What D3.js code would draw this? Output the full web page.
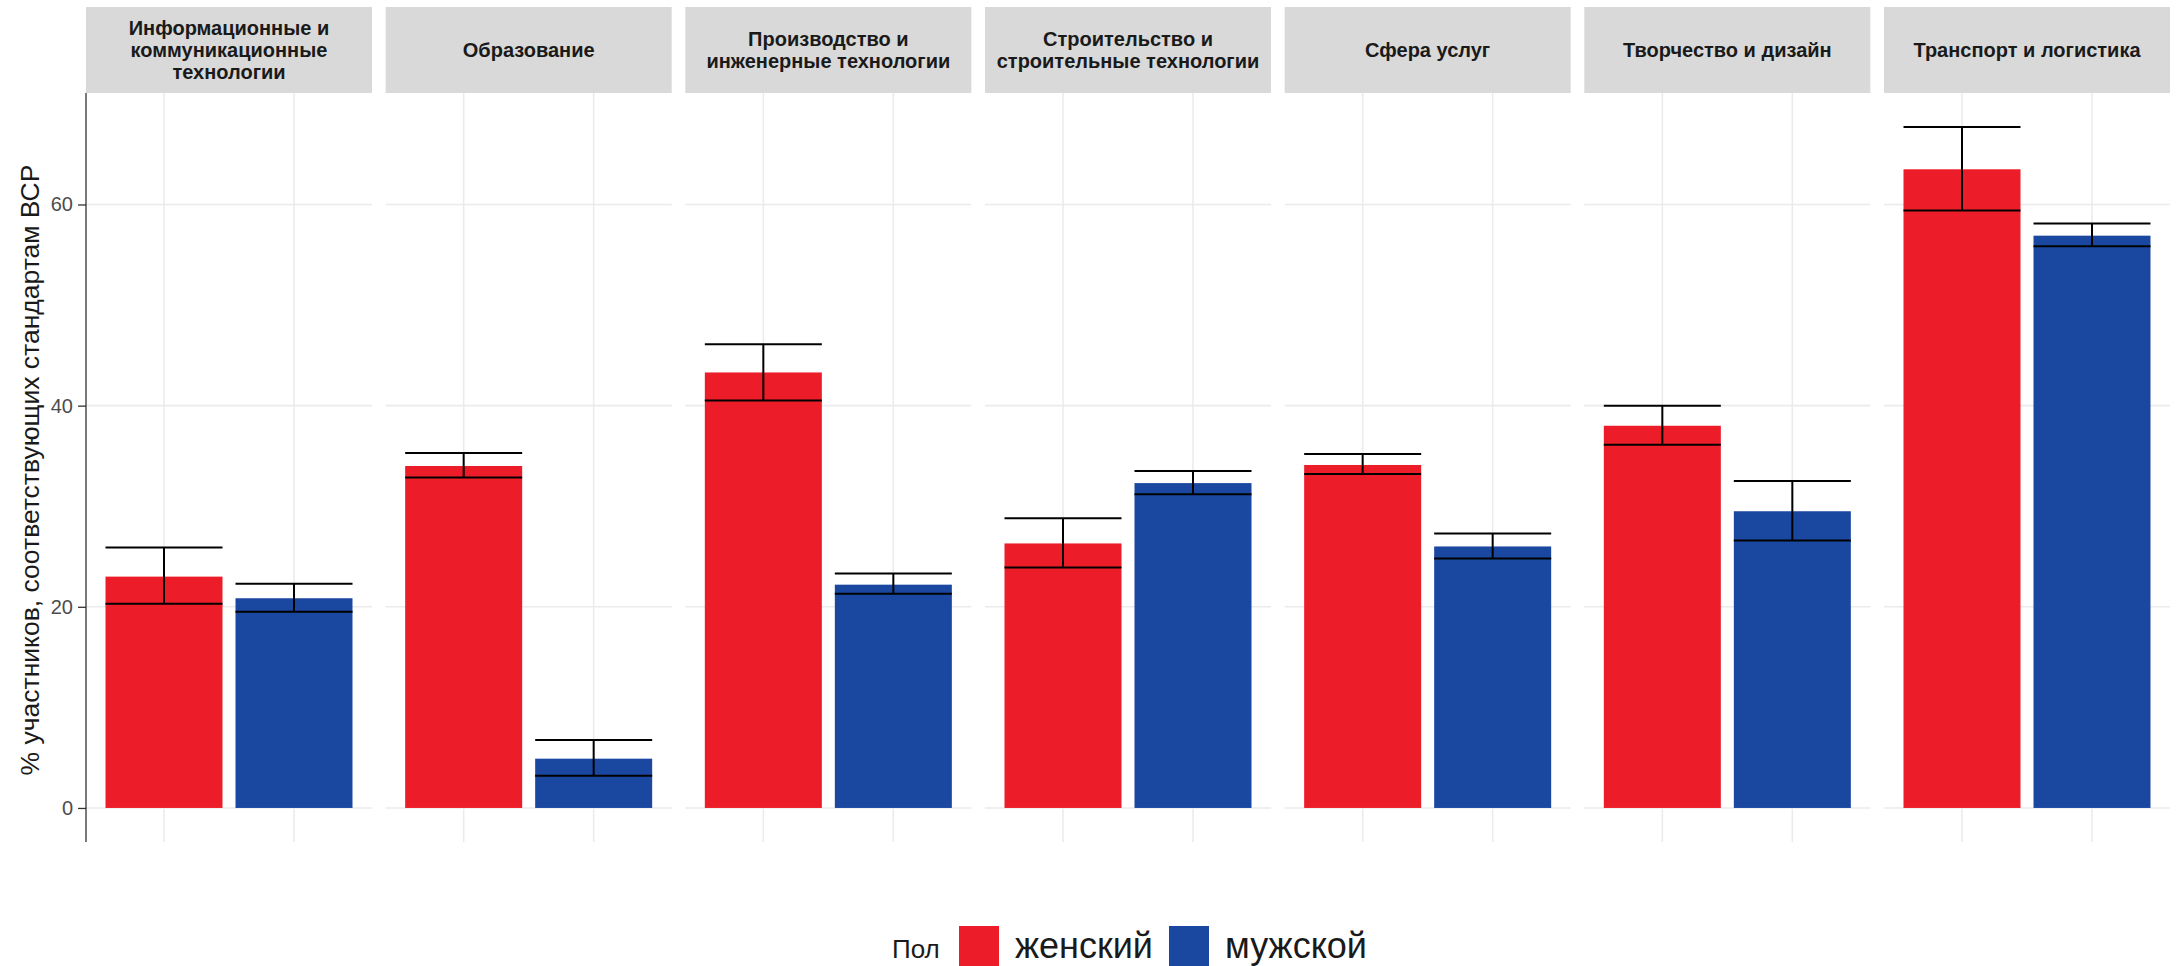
<!DOCTYPE html>
<html>
<head>
<meta charset="utf-8">
<script src="https://cdn.jsdelivr.net/npm/d3@7"></script>
<style>
  html, body { margin: 0; padding: 0; background: #fff; }
  svg { display: block; font-family: "Liberation Sans", Arial, sans-serif; }
</style>
</head>
<body>
<svg id="chart" width="2177" height="966"></svg>
<script>
// ---- data ----
const categories = [
  ["Информационные и", "коммуникационные", "технологии"],
  ["Образование"],
  ["Производство и", "инженерные технологии"],
  ["Строительство и", "строительные технологии"],
  ["Сфера услуг"],
  ["Творчество и дизайн"],
  ["Транспорт и логистика"]
];
const genders = ["женский", "мужской"];
const femaleValue = [23.0, 34.0, 43.3, 26.3, 34.1, 38.0, 63.5];
const femaleLow   = [20.3, 32.85, 40.5, 23.9, 33.2, 36.1, 59.4];
const femaleHigh  = [25.9, 35.3, 46.1, 28.8, 35.2, 40.0, 67.7];
const maleValue   = [20.85, 4.9, 22.2, 32.3, 26.0, 29.5, 56.9];
const maleLow     = [19.5, 3.2, 21.3, 31.2, 24.8, 26.6, 55.85];
const maleHigh    = [22.3, 6.75, 23.3, 33.5, 27.3, 32.5, 58.1];
const yTicks = [0, 20, 40, 60];
const yTitle = "% участников, соответствующих стандартам ВСР";
const legendTitle = "Пол";

const colors = { "женский": "#EC1C28", "мужской": "#1A47A0" };

// ---- build rows ----
const rows = [];
categories.forEach((c, i) => {
  rows.push({ cat: i, g: "женский", v: femaleValue[i], lo: femaleLow[i], hi: femaleHigh[i] });
  rows.push({ cat: i, g: "мужской", v: maleValue[i], lo: maleLow[i], hi: maleHigh[i] });
});

const svg = d3.select("#chart");
const plotTop = 93, plotBottom = 842;
const stripTop = 7;

const panel = d3.scaleBand().domain(d3.range(categories.length))
  .range([86, 2170]).paddingInner(0.0456).paddingOuter(0);
const bw = panel.bandwidth();

const maxV = d3.max(rows, d => d.hi), minV = 0;
const expand = (maxV - minV) * 0.05;
const y = d3.scaleLinear().domain([minV - expand, maxV + expand]).range([plotBottom, plotTop]);

const xIn = d3.scaleLinear().domain([0.4, 2.6]).range([0, bw]);
const gIndex = g => genders.indexOf(g) + 1;

// panels
const panels = svg.selectAll("g.panel").data(categories).join("g")
  .attr("class", "panel")
  .attr("transform", (d, i) => `translate(${panel(i)},0)`);

// strips
panels.append("rect").attr("x", 0).attr("y", stripTop).attr("width", bw)
  .attr("height", plotTop - stripTop).attr("fill", "#D9D9D9");
panels.each(function(lines) {
  const g = d3.select(this);
  const lh = 21.7;
  const cy = (stripTop + plotTop) / 2;
  const t = g.append("text").attr("text-anchor", "middle")
    .attr("font-size", 20).attr("font-weight", "bold").attr("fill", "#1A1A1A");
  lines.forEach((l, k) => {
    t.append("tspan").attr("x", bw / 2)
      .attr("y", cy + (k - (lines.length - 1) / 2) * lh + 7)
      .text(l);
  });
});

// gridlines
panels.each(function() {
  const g = d3.select(this);
  g.selectAll("line.hg").data(yTicks).join("line").attr("class", "hg")
    .attr("x1", 0).attr("x2", bw).attr("y1", d => y(d)).attr("y2", d => y(d))
    .attr("stroke", "#EBEBEB").attr("stroke-width", 1.6);
  g.selectAll("line.vg").data(genders).join("line").attr("class", "vg")
    .attr("x1", d => xIn(gIndex(d))).attr("x2", d => xIn(gIndex(d)))
    .attr("y1", plotTop).attr("y2", plotBottom)
    .attr("stroke", "#EBEBEB").attr("stroke-width", 1.6);
});

// bars + error bars
panels.each(function(_, i) {
  const g = d3.select(this);
  const data = rows.filter(r => r.cat === i);
  g.selectAll("rect.bar").data(data).join("rect").attr("class", "bar")
    .attr("x", d => xIn(gIndex(d.g) - 0.45))
    .attr("width", d => xIn(gIndex(d.g) + 0.45) - xIn(gIndex(d.g) - 0.45))
    .attr("y", d => y(d.v)).attr("height", d => y(0) - y(d.v))
    .attr("fill", d => colors[d.g]);
  const eb = g.selectAll("g.eb").data(data).join("g").attr("class", "eb")
    .attr("stroke", "#000").attr("stroke-width", 2);
  eb.append("line")
    .attr("x1", d => xIn(gIndex(d.g))).attr("x2", d => xIn(gIndex(d.g)))
    .attr("y1", d => y(d.lo)).attr("y2", d => y(d.hi));
  eb.append("line")
    .attr("x1", d => xIn(gIndex(d.g) - 0.45)).attr("x2", d => xIn(gIndex(d.g) + 0.45))
    .attr("y1", d => y(d.hi)).attr("y2", d => y(d.hi));
  eb.append("line")
    .attr("x1", d => xIn(gIndex(d.g) - 0.45)).attr("x2", d => xIn(gIndex(d.g) + 0.45))
    .attr("y1", d => y(d.lo)).attr("y2", d => y(d.lo));
});

// y axis
const yAxis = d3.axisLeft(y).tickValues(yTicks).tickSize(8).tickPadding(5);
const ya = svg.append("g").attr("transform", `translate(${panel(0)},0)`).call(yAxis);
ya.select(".domain").attr("stroke", "#333").attr("stroke-width", 1.3)
  .attr("d", `M0,${plotTop}V${plotBottom}`);
ya.selectAll(".tick line").attr("stroke", "#333").attr("stroke-width", 1.3);
ya.selectAll(".tick text").attr("font-size", 20).attr("fill", "#4D4D4D")
  .attr("font-family", "Liberation Sans, Arial, sans-serif");

// y title
svg.append("text")
  .attr("transform", `translate(39,470) rotate(-90)`)
  .attr("text-anchor", "middle").attr("font-size", 26.5).attr("fill", "#1A1A1A")
  .text(yTitle);

// legend
svg.append("text").attr("x", 892).attr("y", 958).attr("font-size", 26)
  .attr("fill", "#1A1A1A").text(legendTitle);
const legendX = { "женский": 959, "мужской": 1169 };
const leg = svg.selectAll("g.leg").data(genders).join("g").attr("class", "leg")
  .attr("transform", d => `translate(${legendX[d]},926)`);
leg.append("rect").attr("width", 40).attr("height", 40).attr("fill", d => colors[d]);
leg.append("text").attr("x", 56).attr("y", 32).attr("font-size", 36)
  .attr("fill", "#1A1A1A").text(d => d);
</script>
</body>
</html>
